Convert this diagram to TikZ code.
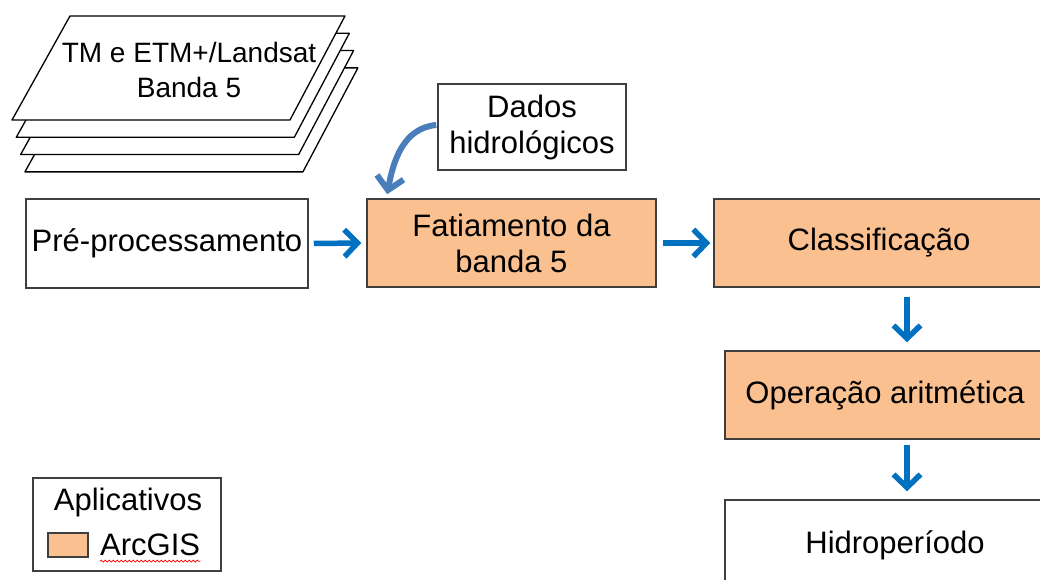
\documentclass[tikz,border=0pt]{standalone}
\usepackage{fontspec}
\setmainfont{Liberation Sans}
\usetikzlibrary{arrows.meta,decorations.pathmorphing}
\definecolor{boxorange}{HTML}{FAC090}
\definecolor{boxline}{HTML}{3F3F3F}
\definecolor{arrblue}{HTML}{0070C0}
\definecolor{curveblue}{HTML}{4A7EBB}
\begin{document}
\begin{tikzpicture}[x=1pt,y=-1pt,
  box/.style={draw=boxline,line width=1.5pt,rectangle,align=center,inner sep=0pt,font=\fontsize{31}{36}\selectfont},
  plainbox/.style={box,fill=white},
  arcbox/.style={box,fill=boxorange},
  arr/.style={draw=arrblue,line width=5.5pt,-{Straight Barb[length=13pt,width=27pt]}},
  carr/.style={arr,draw=curveblue,line width=6pt},
  sheet/.style={draw=black,line width=1.3pt,fill=white,line join=round},
  lbl/.style={font=\fontsize{31}{36}\selectfont,inner sep=0pt,align=center}
]
\useasboundingbox (0,0) rectangle (1040,580);

% stacked sheets
\foreach \k in {3,2,1}{
  \draw[sheet,shift={({4.3*\k},{17.3*\k})}] (70,16) -- (345,16) -- (290,120) -- (12,120) -- cycle;
}
\draw[sheet] (70,16) -- (345,16) -- (290,120) -- (12,120) -- cycle;
\node[lbl,font=\fontsize{28}{35}\selectfont] (tm) at (189,70) {TM e ETM+/Landsat\\Banda 5};

% boxes
\node[plainbox,minimum width=282pt,minimum height=89pt] (pre) at (167,243.5) {Pré-processamento};
\node[arcbox,minimum width=289pt,minimum height=88pt] (fat) at (511.5,243) {Fatiamento da\\banda 5};
\node[arcbox,minimum width=330pt,minimum height=88pt] (cls) at (879,243) {Classificação};
\node[arcbox,minimum width=320pt,minimum height=88pt] (op) at (885,395) {Operação aritmética};
\node[plainbox,minimum width=340pt,minimum height=90pt] (hid) at (895,545) {Hidroperíodo};
\node[plainbox,minimum width=188pt,minimum height=86pt] (dados) at (532,127) {Dados\\hidrológicos};

% connectors
\draw[arr] ([xshift=5pt]pre.east) -- ([xshift=-5pt]fat.west);
\draw[arr] ([xshift=6pt]fat.east) -- ([xshift=-3pt]cls.west);
\draw[arr] ([xshift=28pt,yshift=-9pt]cls.south) -- ([xshift=22pt,yshift=8pt]op.north);
\draw[arr] ([xshift=22pt,yshift=-5pt]op.south) -- ([xshift=12pt,yshift=8pt]hid.north);
\draw[carr] ([xshift=-1pt,yshift=2pt]dados.west) to[out=185,in=80] ([xshift=21pt,yshift=4pt]fat.north west);

% legend
\node[plainbox,minimum width=188pt,minimum height=93pt] (leg) at (127,524.5) {};
\node[lbl] (apl) at (128,502) {Aplicativos};
\node[draw=boxline,line width=1.5pt,fill=boxorange,minimum width=40pt,minimum height=24pt,inner sep=0pt] (sw) at (68,545) {};
\node[lbl,anchor=west] (arc) at (100,545) {ArcGIS};
\draw[red,line width=0.8pt,decorate,decoration={snake,amplitude=1pt,segment length=4pt}]
  ([yshift=-5pt]arc.south west) -- ([yshift=-5pt]arc.south east);
\end{tikzpicture}
\end{document}
